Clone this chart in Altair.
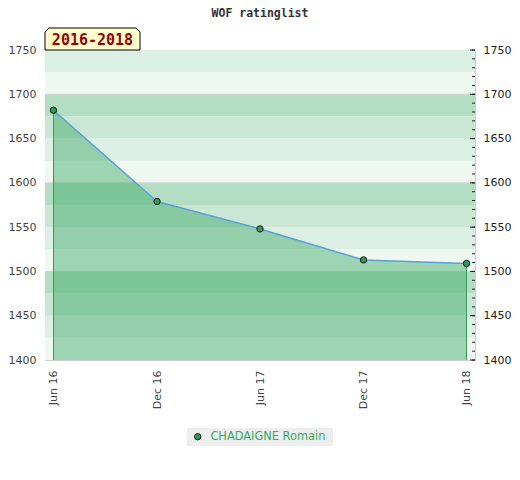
import altair as alt
import pandas as pd

# ---- data ----
dates = ["2016-06-01T00:00", "2016-12-01T00:00", "2017-06-01T00:00",
         "2017-12-01T00:00", "2018-06-01T00:00"]
ratings = [1682, 1579, 1548, 1513, 1509]
player = "CHADAIGNE Romain"
title_text = "WOF ratinglist"
period_text = "2016-2018"
y_labels = [1400, 1450, 1500, 1550, 1600, 1650, 1700, 1750]
y_minor = list(range(1400, 1751, 10))
grid_values = [1500, 1600, 1700]
band_lo = list(range(1400, 1750, 25))
band_palette = {0: "#b3dec3", 75: "#c9e7d4", 50: "#dcefe4", 25: "#eef8f1"}

W, H = 430, 310
df = pd.DataFrame({"date": dates, "rating": ratings, "player": [player] * len(dates)})
edges = df.iloc[[0, -1]]
bands = pd.DataFrame({"lo": band_lo, "hi": [b + 25 for b in band_lo]})
bands["c"] = [band_palette[h % 100] for h in bands["hi"]]
grid = pd.DataFrame({"g": grid_values})
minor = pd.DataFrame({"t": y_minor})
major = pd.DataFrame({"t": y_labels})

yscale = alt.Scale(domain=[1400, 1750], zero=False, nice=False)
xscale = alt.Scale(domain=[alt.DateTime(year=2016, month=5, date=17),
                           alt.DateTime(year=2018, month=6, date=16)])
font = "DejaVu Sans"
mono = "DejaVu Sans Mono"

band_layer = alt.Chart(bands).mark_rect().encode(
    x=alt.value(0), x2=alt.value(W),
    y=alt.Y("lo:Q", scale=yscale,
            axis=alt.Axis(orient="left", values=y_labels, format="d", ticks=False,
                          domain=False, grid=False, title=None, labelPadding=9,
                          labelFont=font, labelFontSize=11, labelColor="#444444")),
    y2="hi:Q",
    fill=alt.Fill("c:N", scale=None, legend=None),
)

grid_layer = alt.Chart(grid).mark_rule(color="#d2d2d2", strokeWidth=1).encode(
    x=alt.value(0), x2=alt.value(W),
    y=alt.Y("g:Q", scale=yscale, axis=None),
)

area_layer = alt.Chart(df).mark_area(color="#2ea25a", opacity=0.42).encode(
    x=alt.X("date:T", scale=xscale, axis=None),
    y=alt.Y("rating:Q", scale=yscale, axis=None),
    y2=alt.datum(1400),
)

edge_layer = alt.Chart(edges).mark_rule(color="#3a9a5a", strokeWidth=1).encode(
    x=alt.X("date:T", scale=xscale, axis=None),
    y=alt.Y("rating:Q", scale=yscale, axis=None),
    y2=alt.datum(1400),
)

line_layer = alt.Chart(df).mark_line(color="#5aa0d8", strokeWidth=1.5).encode(
    x=alt.X("date:T", scale=xscale, axis=None),
    y=alt.Y("rating:Q", scale=yscale, axis=None),
)

point_layer = alt.Chart(df).mark_point(filled=True, size=40, stroke="#111111",
                                       strokeWidth=1, opacity=1).encode(
    x=alt.X("date:T", scale=xscale,
            axis=alt.Axis(values=[alt.DateTime(year=2016, month=6, date=1),
                                  alt.DateTime(year=2016, month=12, date=1),
                                  alt.DateTime(year=2017, month=6, date=1),
                                  alt.DateTime(year=2017, month=12, date=1),
                                  alt.DateTime(year=2018, month=6, date=1)],
                          format="%b %y", labelAngle=270, ticks=False, domain=False,
                          grid=False, title=None, labelPadding=10, labelFont=font,
                          labelFontSize=11, labelColor="#444444")),
    y=alt.Y("rating:Q", scale=yscale, axis=None),
    color=alt.Color("player:N", scale=alt.Scale(domain=[player], range=["#2e9e56"]),
                    legend=alt.Legend(orient="none", legendX=147, legendY=381, title=None,
                                      padding=0, symbolType="circle", symbolSize=40,
                                      symbolStrokeColor="#111111", symbolStrokeWidth=1,
                                      labelColor="#35a95e", labelFont=font,
                                      labelFontSize=11.4, labelOffset=7)),
)

minor_layer = alt.Chart(minor).mark_rule(color="#222222", strokeWidth=1).encode(
    x=alt.value(W - 3), x2=alt.value(W),
    y=alt.Y("t:Q", scale=yscale,
            axis=alt.Axis(orient="right", values=y_labels, format="d", ticks=False,
                          domain=False, grid=False, title=None, labelPadding=8,
                          labelFont=font, labelFontSize=11, labelColor="#222222")),
)

major_layer = alt.Chart(major).mark_rule(color="#222222", strokeWidth=1).encode(
    x=alt.value(W - 5), x2=alt.value(W),
    y=alt.Y("t:Q", scale=yscale, axis=None),
)

one = alt.Data(values=[{"k": 1}])

legend_box = alt.Chart(one).mark_rect(color="#eeeeee").encode(
    x=alt.value(142), x2=alt.value(288), y=alt.value(378), y2=alt.value(396),
)

badge_path = "M-47.5,11L-47.5,-7L-43.5,-11L43.5,-11L47.5,-7L47.5,11Z"
badge = alt.Chart(one).mark_point(shape=badge_path, size=4, filled=True, fill="#ffffcc",
                                  stroke="#000000", strokeWidth=1, opacity=1).encode(
    x=alt.value(47.5), y=alt.value(-11),
)

badge_text = alt.Chart(one).mark_text(text=period_text, font=mono, fontSize=15,
                                      fontWeight="bold", color="#990000",
                                      align="center", baseline="middle").encode(
    x=alt.value(47.5), y=alt.value(-10),
)

title_layer = alt.Chart(one).mark_text(text=title_text, font=mono, fontSize=11.5,
                                       fontWeight="bold", color="#333333",
                                       align="center", baseline="middle").encode(
    x=alt.value(W / 2), y=alt.value(-36),
)

chart = alt.layer(
    band_layer, grid_layer, area_layer, edge_layer, line_layer, minor_layer,
    major_layer, legend_box, point_layer, badge, badge_text, title_layer,
).resolve_axis(y="independent", x="independent").properties(
    width=W, height=H,
    padding={"left": 37, "top": 42, "right": 37, "bottom": 100},
    autosize=alt.AutoSizeParams(type="none"),
).configure_view(stroke="#cccccc", strokeWidth=1)

chart.save("out.html", embed_options={"renderer": "svg", "actions": False})
